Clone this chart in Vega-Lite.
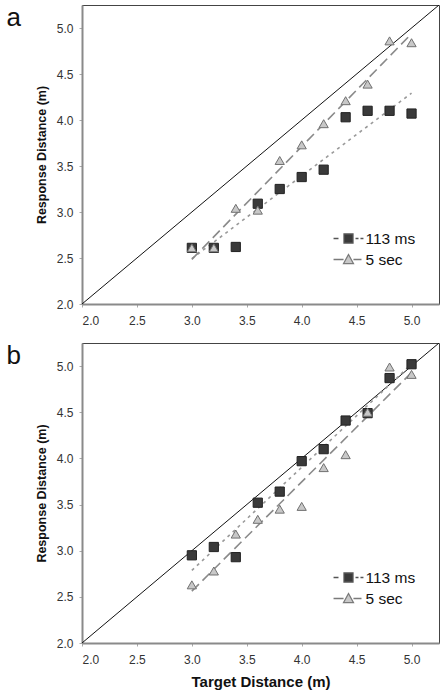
{
  "$schema": "https://vega.github.io/schema/vega-lite/v6.json",
  "padding": {"left": 5, "top": 4, "right": 0, "bottom": 4},
  "background": "white",
  "datasets": {
    "diag": [{"x": 2, "y": 2}, {"x": 5.25, "y": 5.25}],
    "pts": [
      {"p": "a", "c": "113 ms", "x": 3.0, "y": 2.61},
      {"p": "a", "c": "113 ms", "x": 3.2, "y": 2.61},
      {"p": "a", "c": "113 ms", "x": 3.4, "y": 2.62},
      {"p": "a", "c": "113 ms", "x": 3.6, "y": 3.09},
      {"p": "a", "c": "113 ms", "x": 3.8, "y": 3.25},
      {"p": "a", "c": "113 ms", "x": 4.0, "y": 3.38},
      {"p": "a", "c": "113 ms", "x": 4.2, "y": 3.46},
      {"p": "a", "c": "113 ms", "x": 4.4, "y": 4.03},
      {"p": "a", "c": "113 ms", "x": 4.6, "y": 4.10},
      {"p": "a", "c": "113 ms", "x": 4.8, "y": 4.10},
      {"p": "a", "c": "113 ms", "x": 5.0, "y": 4.07},
      {"p": "a", "c": "5 sec", "x": 3.0, "y": 2.61},
      {"p": "a", "c": "5 sec", "x": 3.2, "y": 2.61},
      {"p": "a", "c": "5 sec", "x": 3.4, "y": 3.04},
      {"p": "a", "c": "5 sec", "x": 3.6, "y": 3.02},
      {"p": "a", "c": "5 sec", "x": 3.8, "y": 3.56},
      {"p": "a", "c": "5 sec", "x": 4.0, "y": 3.73},
      {"p": "a", "c": "5 sec", "x": 4.2, "y": 3.96},
      {"p": "a", "c": "5 sec", "x": 4.4, "y": 4.21},
      {"p": "a", "c": "5 sec", "x": 4.6, "y": 4.39},
      {"p": "a", "c": "5 sec", "x": 4.8, "y": 4.86},
      {"p": "a", "c": "5 sec", "x": 5.0, "y": 4.84},
      {"p": "b", "c": "113 ms", "x": 3.0, "y": 2.95},
      {"p": "b", "c": "113 ms", "x": 3.2, "y": 3.04},
      {"p": "b", "c": "113 ms", "x": 3.4, "y": 2.93},
      {"p": "b", "c": "113 ms", "x": 3.6, "y": 3.52},
      {"p": "b", "c": "113 ms", "x": 3.8, "y": 3.64},
      {"p": "b", "c": "113 ms", "x": 4.0, "y": 3.97},
      {"p": "b", "c": "113 ms", "x": 4.2, "y": 4.10},
      {"p": "b", "c": "113 ms", "x": 4.4, "y": 4.41},
      {"p": "b", "c": "113 ms", "x": 4.6, "y": 4.49},
      {"p": "b", "c": "113 ms", "x": 4.8, "y": 4.87},
      {"p": "b", "c": "113 ms", "x": 5.0, "y": 5.02},
      {"p": "b", "c": "5 sec", "x": 3.0, "y": 2.63},
      {"p": "b", "c": "5 sec", "x": 3.2, "y": 2.78},
      {"p": "b", "c": "5 sec", "x": 3.4, "y": 3.18},
      {"p": "b", "c": "5 sec", "x": 3.6, "y": 3.34},
      {"p": "b", "c": "5 sec", "x": 3.8, "y": 3.45},
      {"p": "b", "c": "5 sec", "x": 4.0, "y": 3.48},
      {"p": "b", "c": "5 sec", "x": 4.2, "y": 3.90},
      {"p": "b", "c": "5 sec", "x": 4.4, "y": 4.04},
      {"p": "b", "c": "5 sec", "x": 4.6, "y": 4.50},
      {"p": "b", "c": "5 sec", "x": 4.8, "y": 4.99},
      {"p": "b", "c": "5 sec", "x": 5.0, "y": 4.91}
    ]
  },
  "config": {
    "font": "Liberation Sans",
    "view": {"stroke": "#444", "strokeWidth": 1},
    "axis": {
      "grid": false,
      "domainColor": "#8a8a8a",
      "domainWidth": 2,
      "tickColor": "#aaa",
      "tickSize": 3,
      "labelFont": "Liberation Sans",
      "labelFontSize": 12,
      "labelColor": "#333",
      "titleFont": "Liberation Sans",
      "titleFontWeight": "bold",
      "titleColor": "#111"
    },
    "axisX": {"labelPadding": 8, "titlePadding": 9, "titleFontSize": 15},
    "axisY": {"labelPadding": 6, "titlePadding": 8, "titleFontSize": 12.5},
    "title": {"font": "Liberation Sans"}
  },
  "spacing": 15,
  "vconcat": [
    {
      "width": 357,
      "height": 299,
      "title": {"text": "a", "orient": "left", "anchor": "end", "angle": 0, "align": "right", "baseline": "alphabetic", "dy": 21, "offset": 0, "fontSize": 26, "fontWeight": "normal", "color": "#111"},
      "encoding": {
        "x": {"field": "x", "type": "quantitative", "scale": {"domain": [2, 5.25], "nice": false, "zero": false}, "axis": {"values": [2, 2.5, 3, 3.5, 4, 4.5, 5], "format": ".1f", "title": null}},
        "y": {"field": "y", "type": "quantitative", "scale": {"domain": [2, 5.25], "nice": false, "zero": false}, "axis": {"values": [2, 2.5, 3, 3.5, 4, 4.5, 5], "format": ".1f", "title": "Response Distance (m)"}}
      },
      "layer": [
        {"data": {"name": "diag"}, "mark": {"type": "line", "color": "#111", "strokeWidth": 1, "clip": true}},
        {
          "data": {"name": "pts"},
          "transform": [{"filter": "datum.p === 'a'"}, {"regression": "y", "on": "x", "groupby": ["c"]}],
          "mark": {"type": "line", "strokeWidth": 1.6},
          "encoding": {
            "color": {"field": "c", "type": "nominal", "scale": {"domain": ["113 ms", "5 sec"], "range": ["#9a9a9a", "#8a8a8a"]}, "legend": null},
            "strokeDash": {"field": "c", "type": "nominal", "scale": {"domain": ["113 ms", "5 sec"], "range": [[3, 4], [10, 5]]}, "legend": null}
          }
        },
        {
          "data": {"name": "pts"},
          "transform": [{"filter": "datum.p === 'a'"}],
          "mark": {"type": "point", "filled": true, "opacity": 1, "strokeWidth": 1, "size": 85},
          "encoding": {
            "shape": {"field": "c", "type": "nominal", "scale": {"domain": ["113 ms", "5 sec"], "range": ["square", "triangle-up"]}, "legend": null},
            "fill": {"field": "c", "type": "nominal", "scale": {"domain": ["113 ms", "5 sec"], "range": ["#3a3a3a", "#c8c8c8"]}, "legend": null},
            "stroke": {"field": "c", "type": "nominal", "scale": {"domain": ["113 ms", "5 sec"], "range": ["#222222", "#707070"]}, "legend": null}
          }
        },
        {
          "data": {"name": "pts"},
          "transform": [{"filter": "false"}],
          "mark": {"type": "point", "filled": true, "opacity": 1, "strokeWidth": 1.3, "size": 529},
          "encoding": {
            "shape": {"field": "c", "type": "nominal", "scale": {"domain": ["113 ms", "5 sec"], "range": ["M-1.3,0H-0.87M0.61,0H0.87M1.04,0H1.3M-0.39,-0.39H0.39V0.39H-0.39Z", "M-1.3,0H-0.43M0.43,0H1.13M0,-0.43L0.43,0.35L-0.43,0.35Z"]},
              "legend": {"title": null, "orient": "none", "legendX": 254, "legendY": 221, "labelFontSize": 15.5, "labelColor": "#111", "labelFont": "Liberation Sans", "symbolSize": 529, "symbolStrokeWidth": 1.3, "labelOffset": 4.5, "rowPadding": 0, "padding": 0}},
            "fill": {"field": "c", "type": "nominal", "scale": {"domain": ["113 ms", "5 sec"], "range": ["#3a3a3a", "#c8c8c8"]}},
            "stroke": {"field": "c", "type": "nominal", "scale": {"domain": ["113 ms", "5 sec"], "range": ["#555555", "#7a7a7a"]}}
          }
        }
      ],
      "resolve": {"scale": {"shape": "independent", "fill": "independent", "stroke": "independent"}}
    },
    {
      "width": 357,
      "height": 300,
      "title": {"text": "b", "orient": "left", "anchor": "end", "angle": 0, "align": "right", "baseline": "alphabetic", "dy": 21, "offset": 0, "fontSize": 26, "fontWeight": "normal", "color": "#111"},
      "encoding": {
        "x": {"field": "x", "type": "quantitative", "scale": {"domain": [2, 5.25], "nice": false, "zero": false}, "axis": {"values": [2, 2.5, 3, 3.5, 4, 4.5, 5], "format": ".1f", "title": "Target Distance (m)"}},
        "y": {"field": "y", "type": "quantitative", "scale": {"domain": [2, 5.25], "nice": false, "zero": false}, "axis": {"values": [2, 2.5, 3, 3.5, 4, 4.5, 5], "format": ".1f", "title": "Response Distance (m)"}}
      },
      "layer": [
        {"data": {"name": "diag"}, "mark": {"type": "line", "color": "#111", "strokeWidth": 1, "clip": true}},
        {
          "data": {"name": "pts"},
          "transform": [{"filter": "datum.p === 'b'"}, {"regression": "y", "on": "x", "groupby": ["c"]}],
          "mark": {"type": "line", "strokeWidth": 1.6},
          "encoding": {
            "color": {"field": "c", "type": "nominal", "scale": {"domain": ["113 ms", "5 sec"], "range": ["#9a9a9a", "#8a8a8a"]}, "legend": null},
            "strokeDash": {"field": "c", "type": "nominal", "scale": {"domain": ["113 ms", "5 sec"], "range": [[3, 4], [10, 5]]}, "legend": null}
          }
        },
        {
          "data": {"name": "pts"},
          "transform": [{"filter": "datum.p === 'b'"}],
          "mark": {"type": "point", "filled": true, "opacity": 1, "strokeWidth": 1, "size": 85},
          "encoding": {
            "shape": {"field": "c", "type": "nominal", "scale": {"domain": ["113 ms", "5 sec"], "range": ["square", "triangle-up"]}, "legend": null},
            "fill": {"field": "c", "type": "nominal", "scale": {"domain": ["113 ms", "5 sec"], "range": ["#3a3a3a", "#c8c8c8"]}, "legend": null},
            "stroke": {"field": "c", "type": "nominal", "scale": {"domain": ["113 ms", "5 sec"], "range": ["#222222", "#707070"]}, "legend": null}
          }
        },
        {
          "data": {"name": "pts"},
          "transform": [{"filter": "false"}],
          "mark": {"type": "point", "filled": true, "opacity": 1, "strokeWidth": 1.3, "size": 529},
          "encoding": {
            "shape": {"field": "c", "type": "nominal", "scale": {"domain": ["113 ms", "5 sec"], "range": ["M-1.3,0H-0.87M0.61,0H0.87M1.04,0H1.3M-0.39,-0.39H0.39V0.39H-0.39Z", "M-1.3,0H-0.43M0.43,0H1.13M0,-0.43L0.43,0.35L-0.43,0.35Z"]},
              "legend": {"title": null, "orient": "none", "legendX": 254, "legendY": 222, "labelFontSize": 15.5, "labelColor": "#111", "labelFont": "Liberation Sans", "symbolSize": 529, "symbolStrokeWidth": 1.3, "labelOffset": 4.5, "rowPadding": 0, "padding": 0}},
            "fill": {"field": "c", "type": "nominal", "scale": {"domain": ["113 ms", "5 sec"], "range": ["#3a3a3a", "#c8c8c8"]}},
            "stroke": {"field": "c", "type": "nominal", "scale": {"domain": ["113 ms", "5 sec"], "range": ["#555555", "#7a7a7a"]}}
          }
        }
      ],
      "resolve": {"scale": {"shape": "independent", "fill": "independent", "stroke": "independent"}}
    }
  ],
  "resolve": {"scale": {"shape": "independent", "fill": "independent", "stroke": "independent", "color": "independent", "strokeDash": "independent"}}
}
